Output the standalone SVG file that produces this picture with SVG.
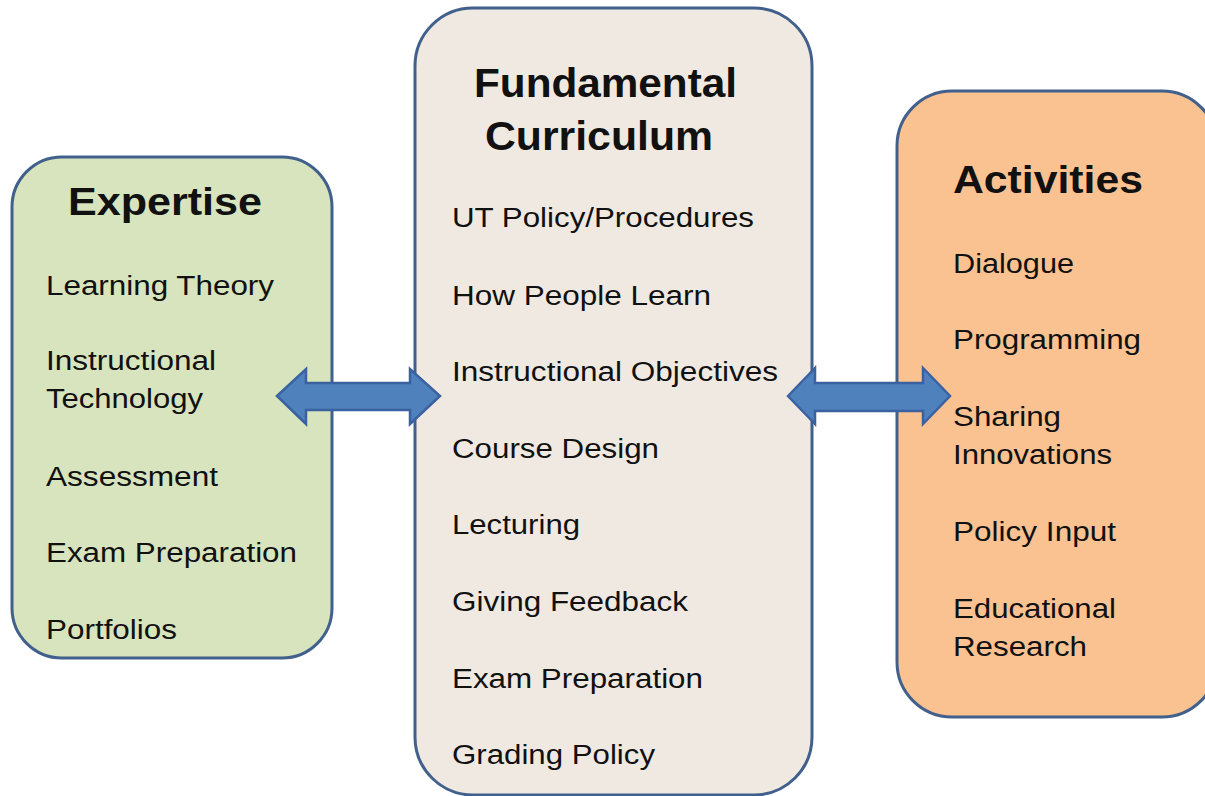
<svg xmlns="http://www.w3.org/2000/svg" width="1205" height="796" viewBox="0 0 1205 796">
<defs>
<style>
.box{stroke:#41608c;stroke-width:3}
.t{font-family:"Liberation Sans",Arial,sans-serif;font-size:27px;fill:#111}
.h{font-family:"Liberation Sans",Arial,sans-serif;font-size:38px;font-weight:bold;fill:#111}
.arr{fill:#4f81bd;stroke:#3a62a0;stroke-width:2.5;stroke-linejoin:miter}
</style>
</defs>
<rect width="1205" height="796" fill="#ffffff"/>
<g id="expertise">
<rect class="box" x="12" y="157" width="320" height="501" rx="50" ry="50" fill="#d7e4bd"/>
<text class="h" x="68" y="215" textLength="194" lengthAdjust="spacingAndGlyphs">Expertise</text>
<text class="t" x="46" y="295" textLength="228" lengthAdjust="spacingAndGlyphs">Learning Theory</text>
<text class="t" x="46" y="370" textLength="170" lengthAdjust="spacingAndGlyphs">Instructional</text>
<text class="t" x="46" y="408" textLength="157" lengthAdjust="spacingAndGlyphs">Technology</text>
<text class="t" x="46" y="486" textLength="172" lengthAdjust="spacingAndGlyphs">Assessment</text>
<text class="t" x="46" y="562" textLength="251" lengthAdjust="spacingAndGlyphs">Exam Preparation</text>
<text class="t" x="46" y="639" textLength="131" lengthAdjust="spacingAndGlyphs">Portfolios</text>
</g>
<g id="curriculum">
<rect class="box" x="415" y="8" width="397" height="787" rx="58" ry="58" fill="#efe9e1"/>
<text class="h" x="474" y="97" textLength="263" lengthAdjust="spacingAndGlyphs" style="font-size:41px">Fundamental</text>
<text class="h" x="485" y="150" textLength="228" lengthAdjust="spacingAndGlyphs" style="font-size:41px">Curriculum</text>
<text class="t" x="452" y="227" textLength="302" lengthAdjust="spacingAndGlyphs">UT Policy/Procedures</text>
<text class="t" x="452" y="305" textLength="259" lengthAdjust="spacingAndGlyphs">How People Learn</text>
<text class="t" x="452" y="381" textLength="326" lengthAdjust="spacingAndGlyphs">Instructional Objectives</text>
<text class="t" x="452" y="458" textLength="207" lengthAdjust="spacingAndGlyphs">Course Design</text>
<text class="t" x="452" y="534" textLength="128" lengthAdjust="spacingAndGlyphs">Lecturing</text>
<text class="t" x="452" y="611" textLength="236" lengthAdjust="spacingAndGlyphs">Giving Feedback</text>
<text class="t" x="452" y="688" textLength="251" lengthAdjust="spacingAndGlyphs">Exam Preparation</text>
<text class="t" x="452" y="764" textLength="203" lengthAdjust="spacingAndGlyphs">Grading Policy</text>
</g>
<g id="activities">
<rect class="box" x="897" y="91" width="320" height="626" rx="55" ry="55" fill="#fac191"/>
<text class="h" x="953" y="193" textLength="190" lengthAdjust="spacingAndGlyphs">Activities</text>
<text class="t" x="953" y="273" textLength="121" lengthAdjust="spacingAndGlyphs">Dialogue</text>
<text class="t" x="953" y="349" textLength="188" lengthAdjust="spacingAndGlyphs">Programming</text>
<text class="t" x="953" y="426" textLength="108" lengthAdjust="spacingAndGlyphs">Sharing</text>
<text class="t" x="953" y="464" textLength="159" lengthAdjust="spacingAndGlyphs">Innovations</text>
<text class="t" x="953" y="541" textLength="163" lengthAdjust="spacingAndGlyphs">Policy Input</text>
<text class="t" x="953" y="618" textLength="163" lengthAdjust="spacingAndGlyphs">Educational</text>
<text class="t" x="953" y="656" textLength="134" lengthAdjust="spacingAndGlyphs">Research</text>
</g>
<g id="connectors">
<path class="arr" d="M277,396 L306,369 L306,383 L410,383 L410,369 L440,396 L410,424 L410,410 L306,410 L306,424 Z"/>
<path class="arr" d="M788,396 L815,368 L815,383 L923,383 L923,368 L950,396 L923,424 L923,411 L815,411 L815,424 Z"/>
</g>
</svg>
